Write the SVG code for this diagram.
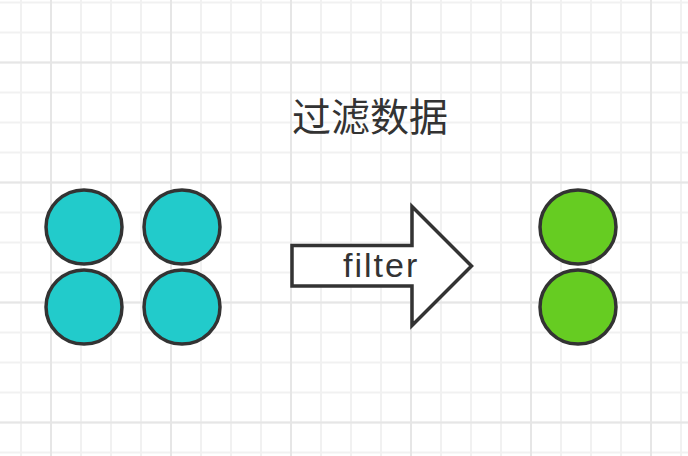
<svg xmlns="http://www.w3.org/2000/svg" width="688" height="456" viewBox="0 0 688 456">
<style>
.minor{stroke:#f1f1f1;stroke-width:2;fill:none}
.major{stroke:#e6e6e6;stroke-width:2;fill:none}
.cyan{fill:#22CBCB;stroke:#333;stroke-width:3.5}
.green{fill:#66CC22;stroke:#333;stroke-width:3.5}
.txt{font-family:"Liberation Sans","Noto Sans CJK SC",sans-serif;fill:#333}
</style>
<rect width="688" height="456" fill="#fff"/>
<g id="grid">
<path class="minor" d="M21 0V456M51 0V456M81 0V456M111 0V456M141 0V456M171 0V456M201 0V456M231 0V456M261 0V456M291 0V456M321 0V456M351 0V456M381 0V456M411 0V456M441 0V456M471 0V456M501 0V456M531 0V456M561 0V456M591 0V456M621 0V456M651 0V456M681 0V456M0 2.5H688M0 32.5H688M0 62.5H688M0 92.5H688M0 122.5H688M0 152.5H688M0 182.5H688M0 212.5H688M0 242.5H688M0 272.5H688M0 302.5H688M0 332.5H688M0 362.5H688M0 392.5H688M0 422.5H688M0 452.5H688"/>
<path class="major" d="M51 0V456M171 0V456M291 0V456M411 0V456M531 0V456M651 0V456M0 62.5H688M0 182.5H688M0 302.5H688M0 422.5H688"/>
</g>
<g id="title"><text class="txt" x="370" y="131" font-size="39" text-anchor="middle">过滤数据</text></g>
<g id="input">
<ellipse class="cyan" cx="84" cy="227" rx="38" ry="37"/>
<ellipse class="cyan" cx="182" cy="227" rx="38" ry="37"/>
<ellipse class="cyan" cx="84" cy="307" rx="38" ry="37"/>
<ellipse class="cyan" cx="182" cy="307" rx="38" ry="37"/>
</g>
<g id="connectors">
<g id="filter-arrow">
<polygon points="292,245.5 412,245.5 412,206.5 471.5,266 412,325.5 412,286 292,286" fill="#fff" stroke="#333" stroke-width="3.5" stroke-linejoin="miter"/>
<text class="txt" x="343" y="277" font-size="34" letter-spacing="2">filter</text>
</g>
</g>
<g id="output">
<ellipse class="green" cx="578" cy="227" rx="38" ry="37"/>
<ellipse class="green" cx="578" cy="307" rx="38" ry="37"/>
</g>
</svg>
